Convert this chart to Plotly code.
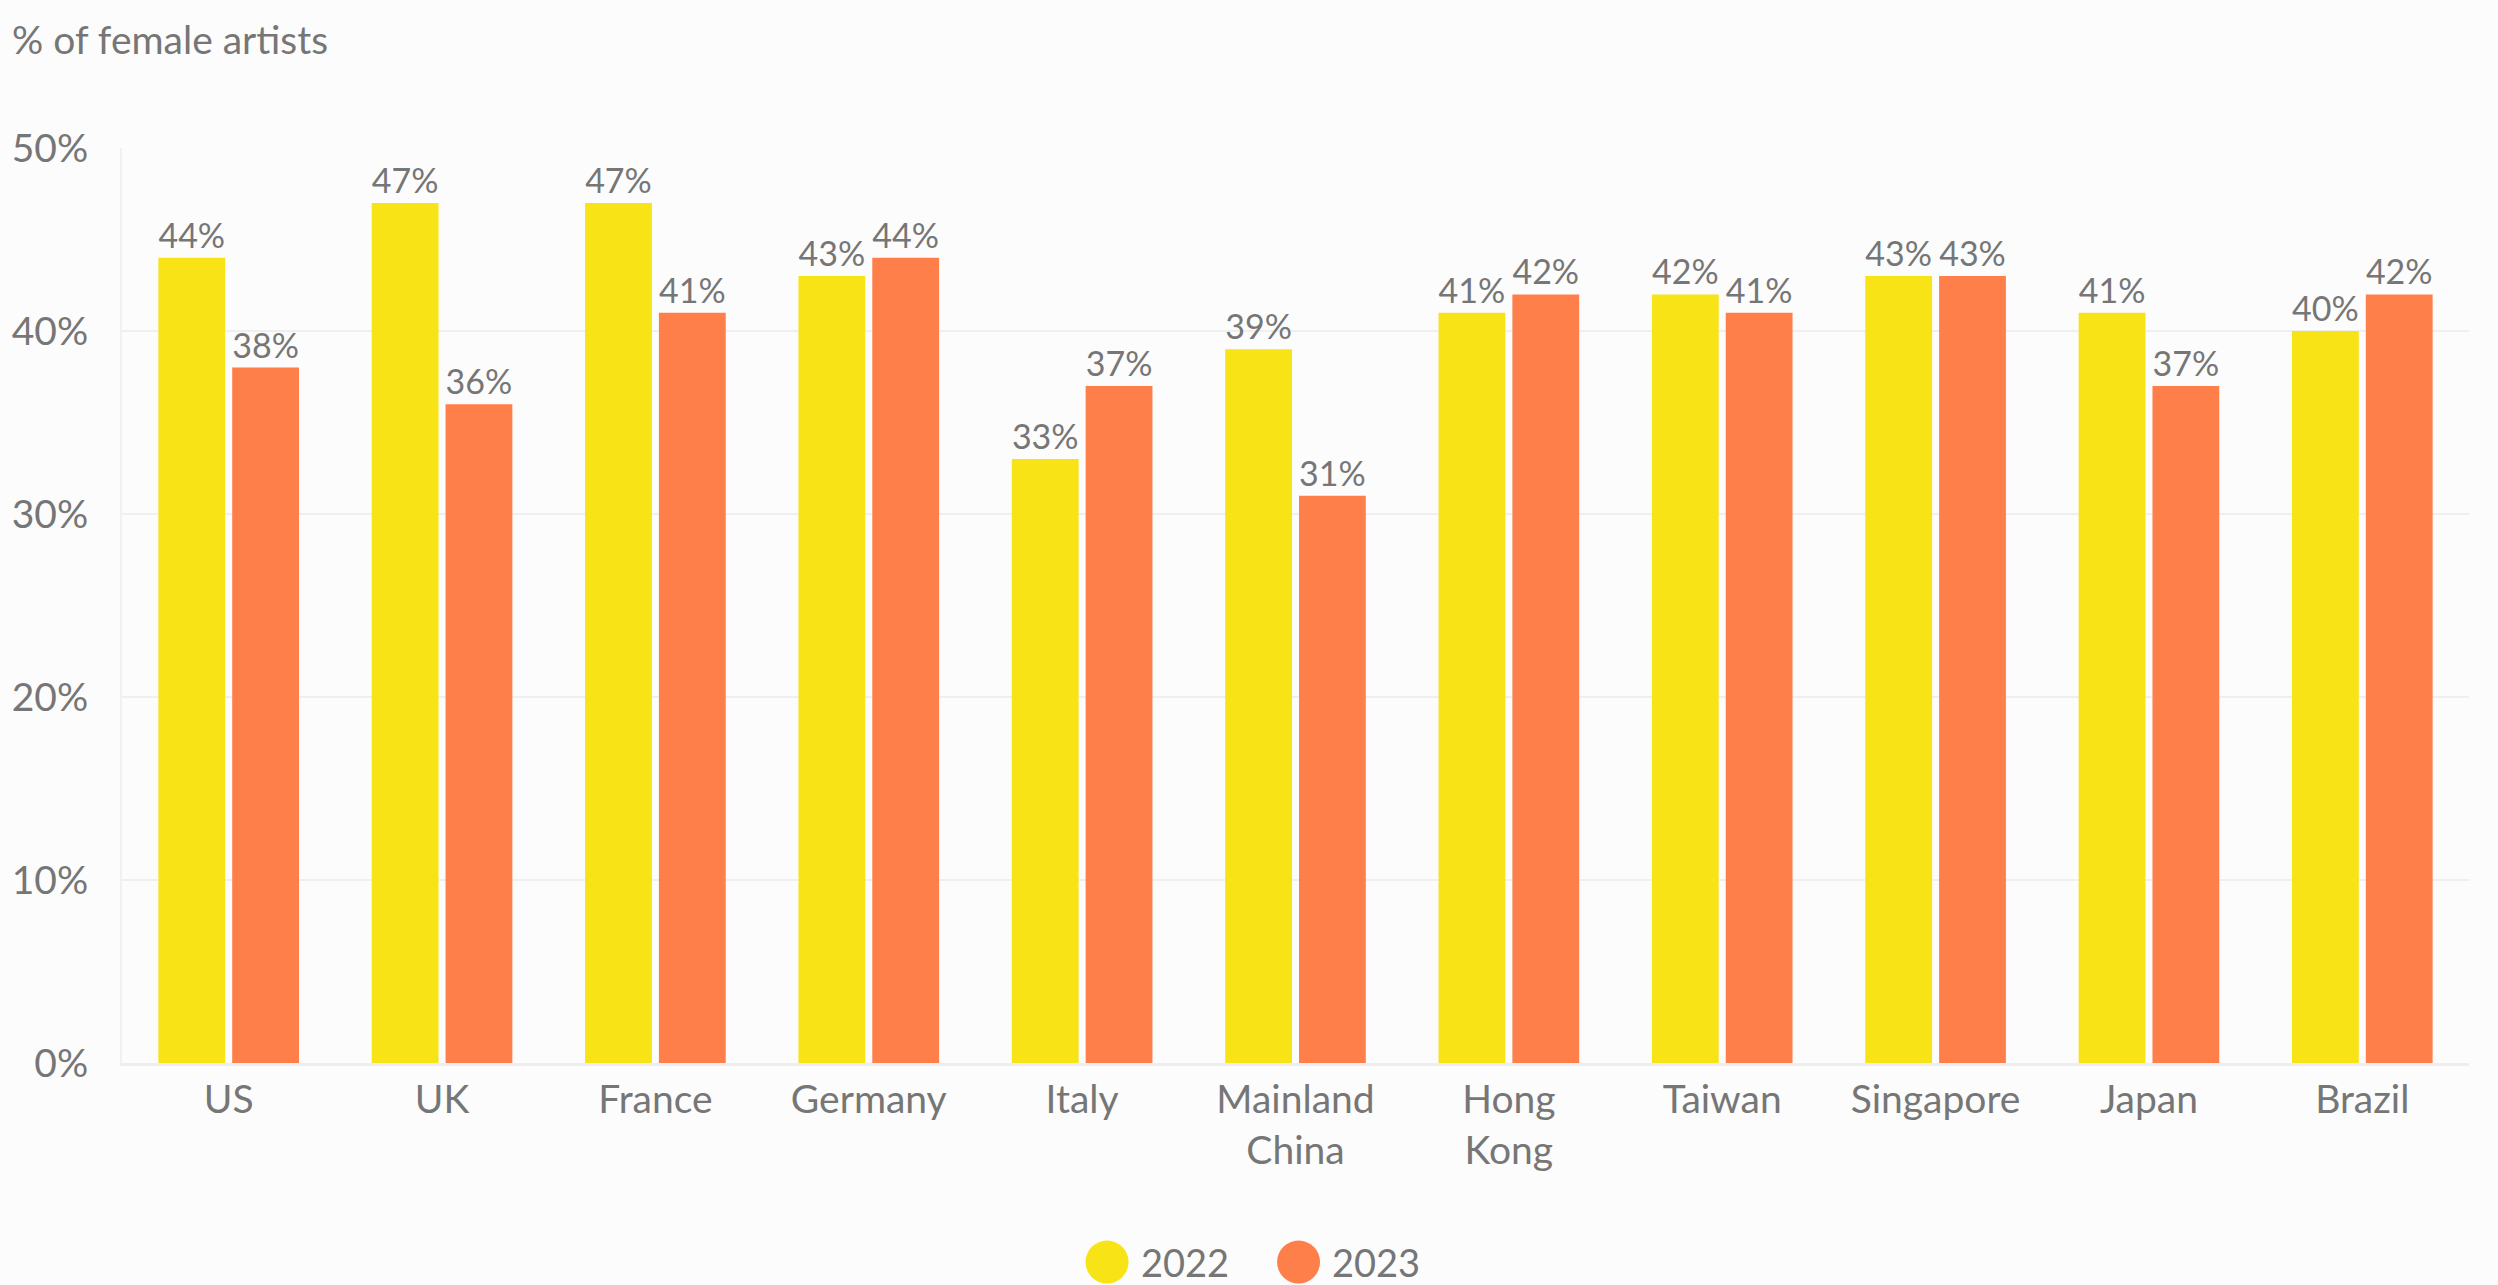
import plotly.graph_objects as go

countries = ['US', 'UK', 'France', 'Germany', 'Italy', 'Mainland<br>China',
             'Hong<br>Kong', 'Taiwan', 'Singapore', 'Japan', 'Brazil']
share_2022 = [44, 47, 47, 43, 33, 39, 41, 42, 43, 41, 40]
share_2023 = [38, 36, 41, 44, 37, 31, 42, 41, 43, 37, 42]
years = ['2022', '2023']
colours = ['#F8E317', '#FF7F4B']

FONT = 'Lato'
GREY = '#767676'

fig = go.Figure()
for year, vals, col in zip(years, [share_2022, share_2023], colours):
    fig.add_trace(
        go.Bar(x=countries,
               y=vals,
               name=year,
               marker=dict(color=col, line=dict(width=0)),
               text=[f'{v}%' for v in vals],
               textposition='outside',
               textfont=dict(family=FONT, size=34, color=GREY),
               constraintext='none',
               cliponaxis=False,
               showlegend=False))

# legend drawn by hand so the circles can be large
legend_x = [0.4197, 0.5013]
for i, (year, col) in enumerate(zip(years, colours)):
    fig.add_shape(type='circle',
                  xref='paper', yref='paper',
                  xsizemode='pixel', ysizemode='pixel',
                  xanchor=legend_x[i], yanchor=-0.2175,
                  x0=-21.5, x1=21.5, y0=-21.5, y1=21.5,
                  fillcolor=col, line=dict(width=0))
    fig.add_annotation(text=year,
                       xref='paper', yref='paper',
                       x=legend_x[i] + 0.0136, y=-0.2175,
                       xanchor='left', yanchor='middle',
                       showarrow=False,
                       font=dict(family=FONT, size=38, color=GREY))

fig.update_layout(
    width=2498,
    height=1285,
    margin=dict(l=115, r=29, t=148, b=222),
    paper_bgcolor='#FCFCFC',
    plot_bgcolor='#FCFCFC',
    barmode='group',
    bargap=0.308,
    bargroupgap=0.095,
    font=dict(family=FONT, size=38, color=GREY),
    title=dict(text='% of female artists',
               x=12 / 2498, xanchor='left', xref='container',
               y=1 - 40 / 1285, yanchor='middle', yref='container',
               font=dict(family=FONT, size=39, color=GREY)),
)
fig.update_xaxes(showgrid=False,
                 showline=True, linecolor='#EEEEEE', linewidth=3,
                 ticks='', tickfont=dict(size=39, color=GREY))
fig.update_yaxes(range=[0, 50], dtick=10, ticksuffix='%',
                 showgrid=True, gridcolor='#EFEFEF', gridwidth=2,
                 showline=True, linecolor='#F0F0F0', linewidth=2,
                 zeroline=False, ticks='', ticklabelstandoff=24,
                 tickfont=dict(size=39, color=GREY))

# drop the default body margin so the figure sits at the page corner
fig.write_html('out.html',
               config={'displayModeBar': False},
               post_script="document.body.style.margin='0';")
